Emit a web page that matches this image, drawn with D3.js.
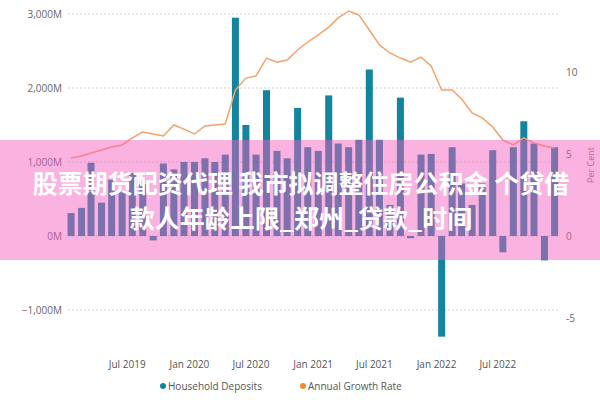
<!DOCTYPE html>
<html>
<head>
<meta charset="utf-8">
<script src="https://cdn.jsdelivr.net/npm/d3@7"></script>
<style>
  body { margin: 0; background: #fff; }
  svg { font-family: "Open Sans", "Noto Sans", sans-serif; }
</style>
</head>
<body>
<svg id="chart" width="600" height="400"></svg>
<script>
// monthly data, Jan 2019 .. Dec 2022
const deposits = [310, 380, 990, 450, 760, 620, 850, 700, -60, 980, 900, 1000,
  1000, 1050, 1000, 1100, 2950, 1500, 1100, 1970, 1150, 1050, 1730, 1200,
  1150, 1900, 1250, 1200, 1300, 2250, 1300, 420, 1870, -30, 1100, 1110,
  -1360, 1200, 710, 420, 710, 1160, -220, 1200, 1550, 1250, -330, 1200];
const growthRate = [4.76, 4.88, 5.06, 5.24, 5.43, 5.55, 5.98, 6.34, 6.22, 6.10, 6.77, 6.52,
  6.22, 6.71, 6.77, 6.83, 8.9, 9.63, 9.76, 10.85, 10.6, 10.73, 11.34, 11.83,
  12.26, 12.74, 13.3, 13.72, 13.48, 12.56, 11.65, 11.16, 10.85, 10.6, 10.91, 10.37,
  8.9, 8.9, 8.35, 7.5, 7.2, 6.65, 5.85, 5.55, 5.98, 5.67, 5.49, 5.37];
const leftTicks = [-1000, 0, 1000, 2000, 3000];
const rightTicks = [-5, 0, 5, 10];
const xTicks = ['2019-07', '2020-01', '2020-07', '2021-01', '2021-07', '2022-01', '2022-07'];
const titleLines = ['股票期货配资代理 我市拟调整住房公积金 个贷借', '款人年龄上限_郑州_贷款_时间'];

const months = deposits.map((d, i) => new Date(2019, i, 1));

const svg = d3.select('#chart');
const x = d3.scaleTime().domain([new Date(2019, 0, 1), new Date(2023, 0, 1)]).range([66, 560]);
const yL = d3.scaleLinear().domain([-1000, 3000]).range([310, 14]);
const yR = d3.scaleLinear().domain([0, 10]).range([236, 72]);
const bw = 7;
const mid = d => new Date(d.getFullYear(), d.getMonth(), 16);

// gridlines
svg.append('g').selectAll('line').data(leftTicks).join('line')
  .attr('x1', 68).attr('x2', 560)
  .attr('y1', d => yL(d)).attr('y2', d => yL(d))
  .attr('stroke', '#d0d0d0').attr('stroke-dasharray', '2,2');

// left axis labels
svg.append('g').selectAll('text').data(leftTicks).join('text')
  .attr('x', 62).attr('y', d => yL(d) + 4)
  .attr('text-anchor', 'end').attr('font-size', 10).attr('fill', '#666')
  .text(d => d3.format(',')(d) + 'M');

// right axis labels
svg.append('g').selectAll('text').data(rightTicks).join('text')
  .attr('x', 566).attr('y', d => yR(d) + 4)
  .attr('font-size', 10).attr('fill', '#666')
  .text(d => d);

svg.append('text').attr('transform', 'translate(594,165) rotate(-90)')
  .attr('text-anchor', 'middle').attr('font-size', 9).attr('fill', '#777').text('Per Cent');

// x labels
svg.append('g').selectAll('text').data(xTicks).join('text')
  .attr('x', d => x(d3.timeParse('%Y-%m')(d)))
  .attr('y', 368).attr('text-anchor', 'middle').attr('font-size', 10).attr('fill', '#555')
  .text(d => d3.timeFormat('%b %Y')(d3.timeParse('%Y-%m')(d)));

// bars
svg.append('g').selectAll('rect').data(deposits).join('rect')
  .attr('x', (d, i) => x(mid(months[i])) - bw / 2)
  .attr('width', bw)
  .attr('y', d => yL(Math.max(0, d)))
  .attr('height', d => Math.abs(yL(d) - yL(0)))
  .attr('fill', '#12849e');

// growth line
const line = d3.line().x((d, i) => x(mid(months[i]))).y(d => yR(d));
svg.append('path').datum(growthRate).attr('d', line)
  .attr('fill', 'none').attr('stroke', '#f5a36a').attr('stroke-width', 1.5);

// legend
const legend = [['Household Deposits', '#12849e', 163], ['Annual Growth Rate', '#f28a2e', 303]];
const lg = svg.append('g').selectAll('g').data(legend).join('g');
lg.append('circle').attr('cx', d => d[2]).attr('cy', 386).attr('r', 3).attr('fill', d => d[1]);
lg.append('text').attr('x', d => d[2] + 5).attr('y', 390).attr('font-size', 10).attr('fill', '#555').text(d => d[0]);

// banner overlay
svg.append('rect').attr('x', 0).attr('y', 140).attr('width', 600).attr('height', 120)
  .attr('fill', 'rgb(245,91,189)').attr('opacity', 0.47);
svg.append('g').selectAll('text').data(titleLines).join('text')
  .attr('x', 301).attr('y', (d, i) => 193 + i * 35)
  .attr('text-anchor', 'middle').attr('font-size', 25).attr('font-weight', 'bold')
  .attr('font-family', '"Noto Sans CJK SC", sans-serif').attr('fill', '#fff')
  .text(d => d);
</script>
</body>
</html>
